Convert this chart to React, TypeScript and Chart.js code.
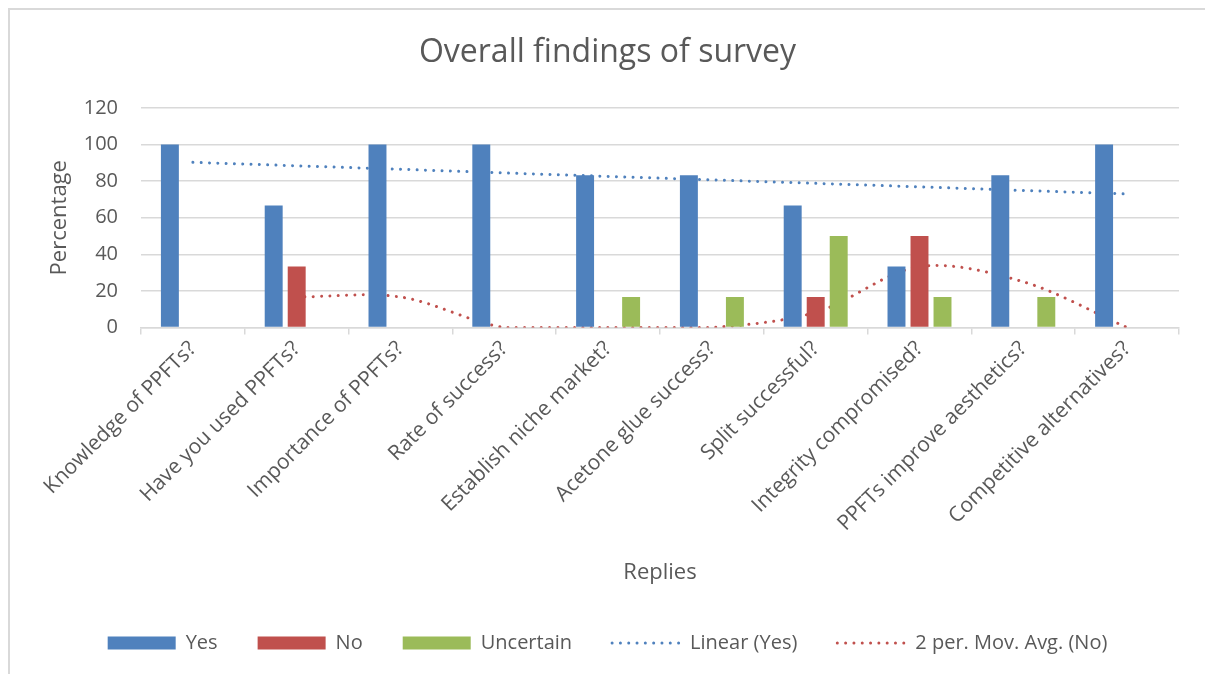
import { useEffect, useRef } from "react";
import { Chart, registerables } from "chart.js";

Chart.register(...registerables);

// Survey questions along the category axis
const categories = [
  "Knowledge of PPFTs?",
  "Have you used PPFTs?",
  "Importance of PPFTs?",
  "Rate of success?",
  "Establish niche market?",
  "Acetone glue success?",
  "Split successful?",
  "Integrity compromised?",
  "PPFTs improve aesthetics?",
  "Competitive alternatives?",
];

// Share of replies per answer (%)
const yesValues = [100, 66.7, 100, 100, 83.3, 83.3, 66.7, 33.3, 83.3, 100];
const noValues = [0, 33.3, 0, 0, 0, 0, 16.7, 50, 0, 0];
const uncertainValues = [0, 0, 0, 0, 16.7, 16.7, 50, 16.7, 16.7, 0];

// Trend lines
const linearYes = [90.3, 88.4, 86.5, 84.5, 82.6, 80.7, 78.8, 76.9, 74.9, 73.0];
const movAvgNo: (number | null)[] = [null, 16.7, 16.7, 0, 0, 0, 8.3, 33.3, 25, 0];

// Value axis
const yMin = 0;
const yMax = 120;
const yStep = 20;

const BLUE = "#4f81bd";
const RED = "#c0504d";
const GREEN = "#9bbb59";
const TEXT = "#595959";
const GRID = "#d9d9d9";
const FONT = "'Open Sans', Lato, sans-serif";

const WIDTH = 1205;
const HEIGHT = 674;

// White page with the chart frame's top and left edges
const framePlugin = {
  id: "frame",
  beforeDraw(chart: any) {
    const { ctx, width, height } = chart;
    ctx.save();
    ctx.fillStyle = "#fff";
    ctx.fillRect(0, 0, width, height);
    ctx.strokeStyle = GRID;
    ctx.lineWidth = 2;
    ctx.beginPath();
    ctx.moveTo(9, height);
    ctx.lineTo(9, 9);
    ctx.lineTo(width, 9);
    ctx.stroke();
    ctx.restore();
  },
};

export default function App() {
  const canvasRef = useRef<HTMLCanvasElement | null>(null);

  useEffect(() => {
    document.documentElement.style.overflow = "hidden";
    document.body.style.overflow = "hidden";
    if (!canvasRef.current) return;
    Chart.defaults.font.family = FONT;
    Chart.defaults.color = TEXT;

    const dotted = {
      borderWidth: 3,
      borderDash: [0.01, 8.3],
      borderCapStyle: "round" as const,
      pointRadius: 0,
      pointHoverRadius: 0,
      fill: false,
      pointStyle: "line" as const,
      order: 2,
    };

    const chart = new Chart(canvasRef.current, {
      type: "bar",
      plugins: [framePlugin],
      data: {
        labels: categories,
        datasets: [
          { label: "Yes", data: yesValues, backgroundColor: BLUE, pointStyle: "rect", order: 1 },
          { label: "No", data: noValues, backgroundColor: RED, pointStyle: "rect", order: 1 },
          { label: "Uncertain", data: uncertainValues, backgroundColor: GREEN, pointStyle: "rect", order: 1 },
          {
            type: "line",
            label: "Linear (Yes)",
            data: linearYes,
            borderColor: BLUE,
            backgroundColor: BLUE,
            ...dotted,
            tension: 0,
          },
          {
            type: "line",
            label: "2 per. Mov. Avg. (No)",
            data: movAvgNo,
            borderColor: RED,
            backgroundColor: RED,
            ...dotted,
            tension: 0.32,
          },
        ] as any,
      },
      options: {
        responsive: false,
        animation: false,
        datasets: {
          bar: { categoryPercentage: 0.665, barPercentage: 0.78 },
        },
        layout: { padding: { left: 10, right: 0, top: 10, bottom: 11 } },
        plugins: {
          title: {
            display: true,
            text: "Overall findings of survey",
            color: TEXT,
            font: { size: 32, weight: "normal" },
            padding: { top: 24, bottom: 35.6 },
          },
          legend: {
            position: "bottom",
            labels: {
              usePointStyle: true,
              pointStyleWidth: 68,
              boxHeight: 13,
              padding: 40,
              color: TEXT,
              font: { size: 20 },
              generateLabels: (c: any) => {
                const items = Chart.defaults.plugins.legend.labels.generateLabels(c);
                items.forEach((item: any) => {
                  const ds: any = c.data.datasets[item.datasetIndex];
                  if (ds.type === "line") {
                    item.lineDash = ds.borderDash;
                    item.lineWidth = ds.borderWidth;
                    item.lineCap = "round";
                    item.strokeStyle = ds.borderColor;
                  }
                });
                return items;
              },
            },
          },
          tooltip: { enabled: false },
        },
        scales: {
          x: {
            grid: {
              offset: true,
              drawOnChartArea: false,
              drawTicks: true,
              tickLength: 7,
              color: GRID,
              lineWidth: 1.5,
            },
            border: { display: true, color: GRID, width: 1.5 },
            ticks: {
              color: TEXT,
              font: { size: 21 },
              minRotation: 45,
              maxRotation: 45,
              autoSkip: false,
              padding: 2,
            },
            title: {
              display: true,
              text: "Replies",
              color: TEXT,
              font: { size: 22 },
              padding: { top: 0, bottom: 6.8 },
            },
            afterFit: (scale: any) => {
              scale.height = 265.5;
            },
          },
          y: {
            min: yMin,
            max: yMax,
            ticks: { stepSize: yStep, color: TEXT, font: { size: 20 }, padding: 23 },
            grid: { color: GRID, lineWidth: 1.5, drawTicks: false },
            border: { display: false },
            title: {
              display: true,
              text: "Percentage",
              color: TEXT,
              font: { size: 22 },
              padding: { top: 36.8, bottom: 0 },
            },
            afterFit: (scale: any) => {
              scale.width = 131;
            },
          },
          // Empty margin to the right of the plot
          yRight: {
            position: "right",
            min: yMin,
            max: yMax,
            grid: { display: false, drawTicks: false },
            border: { display: false },
            ticks: { display: false },
            afterFit: (scale: any) => {
              scale.width = 26;
            },
          },
        },
      },
    });

    return () => chart.destroy();
  }, []);

  return (
    <canvas
      ref={canvasRef}
      width={WIDTH}
      height={HEIGHT}
      style={{ position: "fixed", left: 0, top: 0, display: "block" }}
    />
  );
}
